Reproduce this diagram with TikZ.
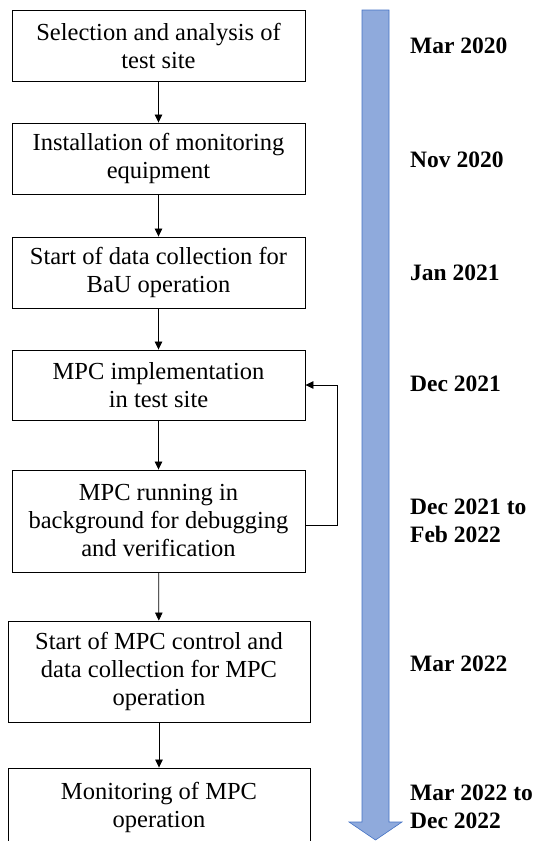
\documentclass[tikz,border=0pt]{standalone}
\usepackage{fontspec}
\setmainfont{Liberation Serif}
\usetikzlibrary{arrows.meta}

\definecolor{barfill}{HTML}{8FAADC}
\definecolor{barline}{HTML}{4472C4}

\begin{document}
\begin{tikzpicture}
          [x=1pt,y=-1pt,
           stage/.style={draw,line width=0.9pt,minimum width=293pt,align=center,inner sep=2pt,
                         font=\fontsize{24.5}{28}\selectfont},
           date/.style={anchor=west,align=left,inner sep=0pt,font=\fontsize{23.5}{28}\selectfont\bfseries},
           flow/.style={line width=0.8pt,-{Triangle[length=8pt,width=7.5pt]}}]

          \clip (0,0) rectangle (536,841);

          % timeline bar
          \draw[barline,fill=barfill,line width=0.6pt]
            (362,10) -- (389,10) -- (389,822) -- (402,822) -- (375.5,840)
            -- (349,822) -- (362,822) -- cycle;

          \node[stage,minimum height=71pt] (s1) at (158.5,45.5) {Selection and analysis of\\test site};
          \node[stage,minimum height=71pt] (s2) at (158.5,158.5) {Installation of monitoring\\equipment};
          \node[stage,minimum height=71pt] (s3) at (158.5,272.5) {Start of data collection for\\BaU operation};
          \node[stage,minimum height=70pt] (s4) at (158.5,385) {MPC implementation\\in test site};
          \node[stage,minimum height=102pt] (s5) at (158.5,521) {MPC running in\\background for debugging\\and verification};
          \node[stage,minimum width=302pt,minimum height=101pt] (s6) at (159,671.5) {Start of MPC control and\\data collection for MPC\\operation};
          \node[stage,minimum width=302pt,minimum height=78pt] (s7) at (159,807) {Monitoring of MPC\\operation};

          \node[date] (d1) at (410,46) {Mar 2020};
          \node[date] (d2) at (410,160) {Nov 2020};
          \node[date] (d3) at (410,273) {Jan 2021};
          \node[date] (d4) at (410,384) {Dec 2021};
          \node[date] (d5) at (410,521) {Dec 2021 to\\Feb 2022};
          \node[date] (d6) at (410,664) {Mar 2022};
          \node[date] (d7) at (410,807) {Mar 2022 to\\Dec 2022};

          \draw[flow] (s1) -- (s2);
          \draw[flow] (s2) -- (s3);
          \draw[flow] (s3) -- (s4);
          \draw[flow] (s4) -- (s5);
          \draw[flow] (s5) -- (s6);
          \draw[flow] (s6) -- (s7);
          % loop back for debugging
          \draw[flow] ([yshift=-4pt]s5.east) -- ++(32,0) |- (s4.east);
        \end{tikzpicture}
\end{document}
